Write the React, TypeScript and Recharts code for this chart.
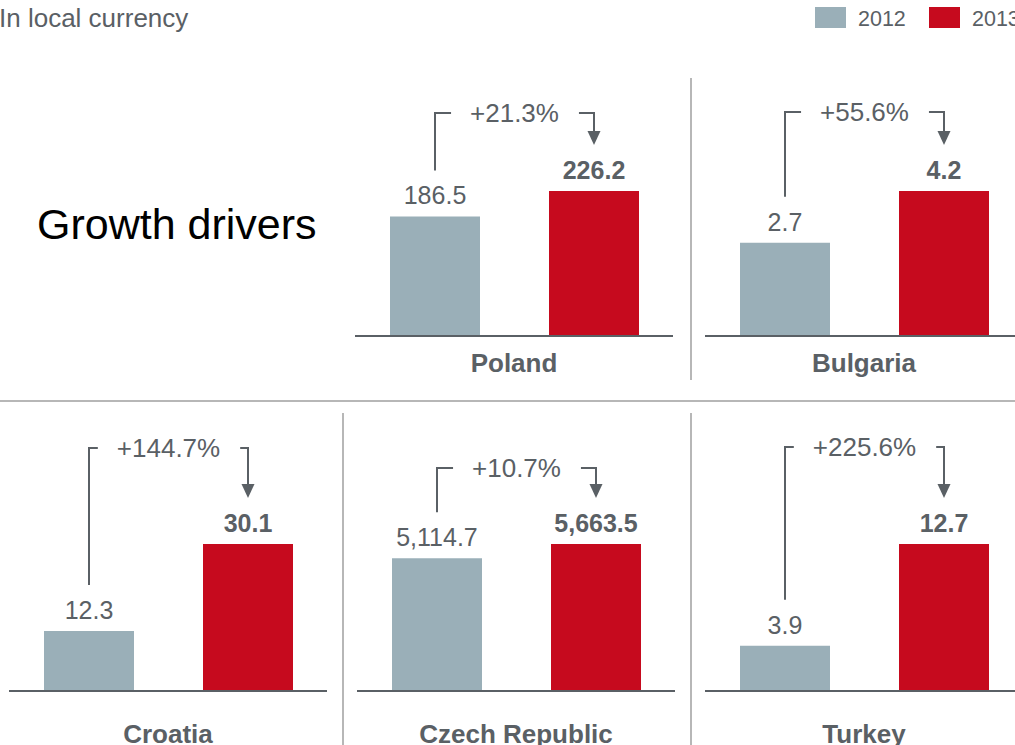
import React from 'react';
import { BarChart, Bar, XAxis, YAxis, Cell, LabelList } from 'recharts';

// values (in local currency)
const YEARS = ['2012', '2013'];
const COUNTRIES = ['Poland', 'Bulgaria', 'Croatia', 'Czech Republic', 'Turkey'];
const VALUES_2012 = [186.5, 2.7, 12.3, 5114.7, 3.9];
const VALUES_2013 = [226.2, 4.2, 30.1, 5663.5, 12.7];

const FONT = '"Liberation Sans", Arial, Helvetica, sans-serif';
const TEXT = '#5a6065';
const GREY_BAR = '#9aafb8';
const RED_BAR = '#c60a1e';
const DIVIDER = '#b7b7b7';
const COLORS = [GREY_BAR, RED_BAR];

// where each small chart sits on the page
const PANELS = [
  { left: 355, top: 90, height: 300, marginTop: 101, axisH: 40, labelOffset: 4, rise: 78 },
  { left: 705, top: 90, height: 300, marginTop: 101, axisH: 40, labelOffset: 4, rise: 79 },
  { left: 9, top: 430, height: 315, marginTop: 114, axisH: 54, labelOffset: 2, rise: 96 },
  { left: 357, top: 430, height: 315, marginTop: 114, axisH: 54, labelOffset: 2, rise: 76 },
  { left: 705, top: 430, height: 315, marginTop: 114, axisH: 54, labelOffset: 2, rise: 97 },
];
const PANEL_W = 318;
const PCT_SIZE = 26;

const fmt = (v: number) =>
  v.toLocaleString('en-US', { minimumFractionDigits: 1, maximumFractionDigits: 1 });

const growth = (a: number, b: number) => `+${((b / a - 1) * 100).toFixed(1)}%`;

let ctx: CanvasRenderingContext2D | null = null;
const textWidth = (s: string, font: string) => {
  if (!ctx) ctx = document.createElement('canvas').getContext('2d');
  if (!ctx) return s.length * 13;
  ctx.font = font;
  return ctx.measureText(s).width;
};

function Panel({ i }: { i: number }) {
  const layout = PANELS[i];
  const data = YEARS.map((year, k) => ({
    year,
    value: k === 0 ? VALUES_2012[i] : VALUES_2013[i],
  }));
  const pct = growth(VALUES_2012[i], VALUES_2013[i]);
  const geo: any = {};

  const renderLabel = (props: any) => {
    const vb = props.viewBox || props;
    const x = Number(vb.x ?? props.x);
    const y = Number(vb.y ?? props.y);
    const w = Number(vb.width ?? props.width);
    const { index, value } = props;
    const cx = x + w / 2;
    const label = (
      <text
        x={cx}
        y={y - 12}
        textAnchor="middle"
        fontSize={25}
        fontWeight={index === 1 ? 700 : 400}
        fill={TEXT}
        fontFamily={FONT}
      >
        {fmt(Number(value))}
      </text>
    );
    if (index === 0) {
      geo.grey = { cx, top: y };
      return label;
    }
    const g = geo.grey;
    if (!g) return label;
    // bracket + arrow from 2012 to 2013
    const by = y - layout.rise;
    const tip = y - 46;
    const mid = (g.cx + cx) / 2;
    const tw = textWidth(pct, `${PCT_SIZE}px ${FONT}`);
    const tl = mid - tw / 2 - 19;
    const tr = mid + tw / 2 + 20;
    return (
      <g>
        {label}
        <path d={`M${g.cx},${g.top - 46} V${by} H${tl}`} stroke={TEXT} strokeWidth={2} fill="none" />
        <path d={`M${tr},${by} H${cx} V${tip - 12}`} stroke={TEXT} strokeWidth={2} fill="none" />
        <polygon points={`${cx - 6.5},${tip - 14} ${cx + 6.5},${tip - 14} ${cx},${tip}`} fill={TEXT} />
        <text x={mid} y={by + 9} textAnchor="middle" fontSize={PCT_SIZE} fill={TEXT} fontFamily={FONT}>
          {pct}
        </text>
      </g>
    );
  };

  return (
    <div style={{ position: 'absolute', left: layout.left, top: layout.top }}>
      <BarChart
        width={PANEL_W}
        height={layout.height}
        data={data}
        margin={{ top: layout.marginTop, right: 0, left: 0, bottom: layout.height === 300 ? 14 : 0 }}
      >
        <XAxis
          dataKey="year"
          tick={false}
          tickLine={false}
          axisLine={{ stroke: TEXT, strokeWidth: 2 }}
          height={layout.axisH}
          label={{
            value: COUNTRIES[i],
            position: 'insideBottom',
            offset: layout.labelOffset,
            fill: TEXT,
            fontSize: 26,
            fontWeight: 700,
            fontFamily: FONT,
          }}
        />
        <YAxis hide domain={[0, 'dataMax']} />
        <Bar dataKey="value" barSize={90} isAnimationActive={false}>
          {data.map((d, k) => (
            <Cell key={d.year} fill={COLORS[k]} />
          ))}
          <LabelList dataKey="value" content={renderLabel} />
        </Bar>
      </BarChart>
    </div>
  );
}

export default function App() {
  return (
    <div
      style={{
        position: 'absolute',
        left: 0,
        top: 0,
        width: 1015,
        height: 745,
        overflow: 'hidden',
        background: '#fff',
        fontFamily: FONT,
      }}
    >
      <svg width={1015} height={745} style={{ position: 'absolute', left: 0, top: 0 }}>
        <text x={-1} y={27} fontSize={26} fill={TEXT} fontFamily={FONT}>In local currency</text>
        <text x={37} y={239} fontSize={43} fill="#000" fontFamily={FONT}>Growth drivers</text>
        {/* legend */}
        <rect x={815} y={7} width={31} height={21} fill={GREY_BAR} />
        <text x={858} y={26} fontSize={21.5} fill={TEXT} fontFamily={FONT}>{YEARS[0]}</text>
        <rect x={929} y={7} width={31} height={21} fill={RED_BAR} />
        <text x={972} y={26} fontSize={21.5} fill={TEXT} fontFamily={FONT}>{YEARS[1]}</text>
        {/* dividers */}
        <line x1={691} y1={78} x2={691} y2={380} stroke={DIVIDER} strokeWidth={2} />
        <line x1={0} y1={401} x2={1015} y2={401} stroke={DIVIDER} strokeWidth={2} />
        <line x1={343} y1={413} x2={343} y2={745} stroke={DIVIDER} strokeWidth={2} />
        <line x1={691} y1={413} x2={691} y2={745} stroke={DIVIDER} strokeWidth={2} />
      </svg>
      {COUNTRIES.map((c, i) => (
        <Panel key={c} i={i} />
      ))}
    </div>
  );
}
